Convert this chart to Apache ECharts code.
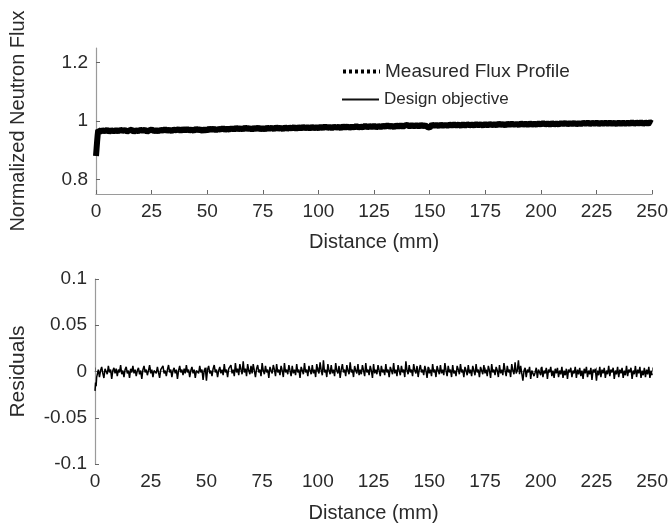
<!DOCTYPE html>
<html><head><meta charset="utf-8">
<script src="https://cdn.jsdelivr.net/npm/echarts@6/dist/echarts.min.js"></script>
<style>html,body{margin:0;padding:0;background:#fff}#c{width:671px;height:529px}</style>
</head><body><div id="c"></div>
<script>
const distance = [0,0.25,0.5,0.75,
1,2,3,4,5,6,7,8,9,10,11,12,13,14,15,16,17,18,19,20,21,22,23,24,25,26,27,28,29,30,
31,32,33,34,35,36,37,38,39,40,41,42,43,44,45,46,47,48,49,50,51,52,53,54,55,56,57,58,59,60,
61,62,63,64,65,66,67,68,69,70,71,72,73,74,75,76,77,78,79,80,81,82,83,84,85,86,87,88,89,90,
91,92,93,94,95,96,97,98,99,100,101,102,103,104,105,106,107,108,109,110,111,112,113,114,115,116,117,118,119,120,
121,122,123,124,125,126,127,128,129,130,131,132,133,134,135,136,137,138,139,140,141,142,143,144,145,146,147,148,149,150,
151,152,153,154,155,156,157,158,159,160,161,162,163,164,165,166,167,168,169,170,171,172,173,174,175,176,177,178,179,180,
181,182,183,184,185,186,187,188,189,190,191,192,193,194,195,196,197,198,199,200,201,202,203,204,205,206,207,208,209,210,
211,212,213,214,215,216,217,218,219,220,221,222,223,224,225,226,227,228,229,230,231,232,233,234,235,236,237,238,239,240,
241,242,243,244,245,246,247,248,249,250];

const measuredFlux = [0.880,0.905,0.930,0.952,
0.969,0.964,0.968,0.965,0.970,0.963,0.968,0.965,0.969,0.964,
0.970,0.966,0.969,0.964,0.968,0.970,0.963,0.968,0.965,0.970,
0.966,0.970,0.963,0.968,0.971,0.965,0.969,0.964,0.970,0.967,
0.972,0.966,0.970,0.965,0.971,0.968,0.972,0.966,0.973,0.967,
0.973,0.967,0.971,0.966,0.974,0.968,0.972,0.965,0.973,0.966,
0.975,0.969,0.974,0.968,0.973,0.970,0.976,0.969,0.974,0.970,
0.976,0.970,0.977,0.971,0.976,0.970,0.978,0.972,0.976,0.970,
0.977,0.972,0.978,0.971,0.976,0.971,0.978,0.973,0.977,0.972,
0.979,0.973,0.977,0.972,0.979,0.973,0.978,0.974,0.979,0.973,
0.979,0.974,0.980,0.975,0.979,0.974,0.980,0.975,0.979,0.975,
0.981,0.975,0.982,0.976,0.980,0.975,0.981,0.977,0.980,0.975,
0.982,0.977,0.982,0.976,0.981,0.977,0.983,0.977,0.981,0.978,
0.984,0.978,0.983,0.979,0.984,0.978,0.983,0.979,0.984,0.980,
0.985,0.980,0.984,0.979,0.985,0.980,0.986,0.980,0.985,0.987,
0.981,0.986,0.982,0.986,0.981,0.987,0.982,0.986,0.979,0.977,
0.988,0.983,0.987,0.982,0.988,0.983,0.987,0.983,0.988,0.984,
0.989,0.984,0.988,0.983,0.989,0.984,0.989,0.985,0.988,0.984,
0.990,0.985,0.989,0.984,0.990,0.985,0.990,0.986,0.989,0.985,
0.991,0.986,0.990,0.985,0.991,0.986,0.991,0.987,0.990,0.986,
0.992,0.987,0.991,0.986,0.992,0.987,0.991,0.987,0.992,0.988,
0.993,0.988,0.992,0.987,0.993,0.988,0.992,0.988,0.993,0.989,
0.994,0.988,0.993,0.989,0.994,0.988,0.993,0.989,0.994,0.990,
0.995,0.989,0.994,0.990,0.995,0.989,0.994,0.990,0.995,0.990,
0.995,0.990,0.994,0.989,0.995,0.990,0.995,0.990,0.994,0.990,
0.996,0.990,0.995,0.991,0.996,0.990,0.995,0.991,0.996,0.992];

const designDistance = [0, 250];
const designObjective = [0.966, 0.993];

const residualDistance = [0,0.25,0.5,0.75,
1,1.5,2,2.5,3,3.5,4,4.5,5,5.5,6,6.5,7,7.5,8,8.5,9,9.5,10,
10.5,11,11.5,12,12.5,13,13.5,14,14.5,15,15.5,16,16.5,17,17.5,18,18.5,19,19.5,20,
20.5,21,21.5,22,22.5,23,23.5,24,24.5,25,25.5,26,26.5,27,27.5,28,28.5,29,29.5,30,
30.5,31,31.5,32,32.5,33,33.5,34,34.5,35,35.5,36,36.5,37,37.5,38,38.5,39,39.5,40,
40.5,41,41.5,42,42.5,43,43.5,44,44.5,45,45.5,46,46.5,47,47.5,48,48.5,49,49.5,50,
50.5,51,51.5,52,52.5,53,53.5,54,54.5,55,55.5,56,56.5,57,57.5,58,58.5,59,59.5,60,
60.5,61,61.5,62,62.5,63,63.5,64,64.5,65,65.5,66,66.5,67,67.5,68,68.5,69,69.5,70,
70.5,71,71.5,72,72.5,73,73.5,74,74.5,75,75.5,76,76.5,77,77.5,78,78.5,79,79.5,80,
80.5,81,81.5,82,82.5,83,83.5,84,84.5,85,85.5,86,86.5,87,87.5,88,88.5,89,89.5,90,
90.5,91,91.5,92,92.5,93,93.5,94,94.5,95,95.5,96,96.5,97,97.5,98,98.5,99,99.5,100,
100.5,101,101.5,102,102.5,103,103.5,104,104.5,105,105.5,106,106.5,107,107.5,108,108.5,109,109.5,110,
110.5,111,111.5,112,112.5,113,113.5,114,114.5,115,115.5,116,116.5,117,117.5,118,118.5,119,119.5,120,
120.5,121,121.5,122,122.5,123,123.5,124,124.5,125,125.5,126,126.5,127,127.5,128,128.5,129,129.5,130,
130.5,131,131.5,132,132.5,133,133.5,134,134.5,135,135.5,136,136.5,137,137.5,138,138.5,139,139.5,140,
140.5,141,141.5,142,142.5,143,143.5,144,144.5,145,145.5,146,146.5,147,147.5,148,148.5,149,149.5,150,
150.5,151,151.5,152,152.5,153,153.5,154,154.5,155,155.5,156,156.5,157,157.5,158,158.5,159,159.5,160,
160.5,161,161.5,162,162.5,163,163.5,164,164.5,165,165.5,166,166.5,167,167.5,168,168.5,169,169.5,170,
170.5,171,171.5,172,172.5,173,173.5,174,174.5,175,175.5,176,176.5,177,177.5,178,178.5,179,179.5,180,
180.5,181,181.5,182,182.5,183,183.5,184,184.5,185,185.5,186,186.5,187,187.5,188,188.5,189,189.5,190,
190.5,191,191.5,192,192.5,193,193.5,194,194.5,195,195.5,196,196.5,197,197.5,198,198.5,199,199.5,200,
200.5,201,201.5,202,202.5,203,203.5,204,204.5,205,205.5,206,206.5,207,207.5,208,208.5,209,209.5,210,
210.5,211,211.5,212,212.5,213,213.5,214,214.5,215,215.5,216,216.5,217,217.5,218,218.5,219,219.5,220,
220.5,221,221.5,222,222.5,223,223.5,224,224.5,225,225.5,226,226.5,227,227.5,228,228.5,229,229.5,230,
230.5,231,231.5,232,232.5,233,233.5,234,234.5,235,235.5,236,236.5,237,237.5,238,238.5,239,239.5,240,
240.5,241,241.5,242,242.5,243,243.5,244,244.5,245,245.5,246,246.5,247,247.5,248,248.5,249,249.5,250];

const residuals = [-0.021,-0.012,-0.016,-0.006,
-0.004,0.002,-0.006,0.001,0.005,-0.002,-0.007,0.003,0.001,-0.003,0.006,-0.001,0.002,-0.008,0.001,0.004,-0.002,0.003,-0.005,
0.002,-0.001,0.007,-0.003,0.001,-0.006,0.002,0.005,-0.002,0.001,-0.007,0.003,-0.001,0.006,-0.002,0.002,-0.005,0.001,0.004,-0.003,
0.001,-0.008,0.002,0.006,-0.001,0.002,-0.004,0.001,0.007,-0.002,0.002,-0.006,0.001,0.003,-0.002,0.005,-0.001,-0.007,0.002,0.001,
0.006,-0.002,0.001,-0.005,0.002,0.007,-0.001,0.002,-0.006,0.001,0.004,-0.002,0.002,-0.008,0.001,0.006,-0.001,0.002,-0.004,0.003,
-0.002,0.007,-0.001,0.002,-0.006,0.001,0.005,-0.002,0.002,-0.007,0.001,0.003,-0.002,0.006,-0.001,0.002,-0.009,0.001,0.004,-0.010,
0.002,0.006,-0.002,0.001,-0.005,0.003,0.007,-0.001,0.002,-0.006,0.001,0.005,-0.002,0.002,-0.004,0.008,-0.001,0.002,-0.006,0.003,
0.001,0.007,-0.002,0.002,-0.005,0.009,-0.001,0.003,-0.004,0.008,0.002,-0.003,0.011,-0.001,0.003,-0.005,0.008,0.001,-0.003,0.006,
-0.002,0.008,0.001,-0.006,0.003,0.007,-0.001,0.002,-0.005,0.009,0.001,-0.003,0.006,-0.001,0.002,-0.007,0.005,0.001,-0.002,0.007,
0.002,-0.005,0.008,-0.001,0.002,-0.004,0.006,0.001,-0.006,0.009,-0.001,0.002,-0.003,0.007,0.001,-0.005,0.006,-0.002,0.002,-0.004,
0.008,-0.001,0.002,-0.007,0.005,0.001,-0.003,0.009,-0.001,0.002,-0.005,0.006,0.001,-0.003,0.007,-0.002,0.002,-0.006,0.008,0.001,
-0.002,0.010,0.001,-0.004,0.012,-0.001,0.002,-0.006,0.008,0.001,-0.003,0.007,-0.002,0.002,-0.005,0.009,0.001,-0.002,0.006,-0.007,
0.002,0.008,-0.001,0.002,-0.005,0.007,0.001,-0.003,0.010,-0.001,0.002,-0.006,0.006,0.001,-0.002,0.008,-0.004,0.002,-0.003,0.007,
0.001,-0.005,0.009,-0.001,0.002,-0.004,0.006,0.001,-0.007,0.008,-0.002,0.002,-0.003,0.007,0.001,-0.005,0.006,-0.001,0.002,-0.004,
0.008,-0.001,0.002,-0.006,0.005,0.001,-0.003,0.009,-0.002,0.002,-0.005,0.007,0.001,-0.004,0.006,-0.001,0.002,-0.006,0.011,0.001,
-0.003,0.007,-0.001,0.002,-0.005,0.008,0.001,-0.002,0.006,-0.006,0.002,0.007,-0.001,0.002,-0.004,0.006,0.001,-0.007,0.005,-0.002,
0.002,-0.005,0.008,-0.001,0.002,-0.006,0.006,0.001,-0.003,0.007,-0.002,0.002,-0.004,0.009,0.001,-0.005,0.006,-0.001,0.002,-0.006,
0.007,-0.002,0.001,-0.005,0.006,0.002,-0.003,0.008,-0.001,0.002,-0.006,0.005,0.001,-0.004,0.007,-0.002,0.002,-0.005,0.006,0.001,
-0.004,0.008,-0.001,0.002,-0.006,0.005,0.001,-0.003,0.007,-0.002,0.002,-0.005,0.006,0.001,-0.007,0.008,-0.001,0.002,-0.004,0.005,
0.001,-0.006,0.007,-0.002,0.002,-0.004,0.009,0.001,-0.005,0.006,-0.001,0.002,-0.006,0.008,0.001,-0.003,0.010,-0.002,0.001,0.012,
-0.003,0.006,-0.002,-0.010,0.001,0.004,-0.006,0.002,-0.001,0.005,-0.008,0.001,0.003,-0.005,-0.001,0.004,-0.007,0.002,0.001,-0.004,
0.005,-0.006,0.001,-0.002,0.004,-0.008,0.002,-0.001,0.005,-0.005,0.001,-0.007,0.003,-0.002,0.004,-0.006,0.001,-0.003,0.005,-0.007,
0.001,-0.004,0.003,-0.008,0.002,-0.001,0.004,-0.006,0.001,-0.002,0.005,-0.007,0.002,-0.003,0.004,-0.005,0.001,-0.008,0.003,-0.002,
0.005,-0.006,0.001,-0.003,0.004,-0.009,0.002,-0.001,0.003,-0.010,0.001,-0.004,0.005,-0.006,0.002,-0.002,0.004,-0.007,0.001,-0.003,
0.006,-0.005,0.002,-0.001,0.004,-0.008,0.001,-0.003,0.005,-0.006,0.002,-0.002,0.004,-0.007,0.001,-0.004,0.006,-0.005,0.002,-0.001,
0.004,-0.008,0.001,-0.003,0.006,-0.006,0.002,-0.002,0.005,-0.007,0.001,-0.004,0.004,-0.006,0.002,-0.003,0.005,-0.007,0.001,-0.004];

const xTicks = [0,25,50,75,100,125,150,175,200,225,250];
const fluxTicks = [0.8, 1, 1.2];
const residualTicks = [-0.1,-0.05,0,0.05,0.1];

const FONT = 'Liberation Sans, Arial, sans-serif';
const axisColor = '#9a9a9a';
const labelColor = '#2a2a2a';

function xAxisCfg(gi, gap) {
  return {
    type: 'value', gridIndex: gi, min: 0, max: 250, interval: 25,
    name: 'Distance (mm)', nameLocation: 'middle', nameGap: gap,
    nameTextStyle: { fontFamily: FONT, fontSize: 20, color: labelColor },
    axisLine: { lineStyle: { color: axisColor, width: 1.2 } },
    axisTick: { inside: true, length: 4, lineStyle: { color: '#666' } },
    axisLabel: { fontFamily: FONT, fontSize: 19, color: labelColor, margin: 8 },
    splitLine: { show: false }
  };
}

const chart = echarts.init(document.getElementById('c'), null, { renderer: 'canvas' });
chart.setOption({
  animation: false,
  backgroundColor: '#fff',
  grid: [
    { left: 95, right: 17, top: 48, height: 146 },
    { left: 95, right: 17, top: 279, height: 185 }
  ],
  legend: [
    { data: ['Measured Flux Profile'], left: 336, top: 57,
      itemWidth: 37, itemHeight: 12, itemGap: 6,
      itemStyle: { opacity: 0 },
      lineStyle: { type: [3, 3], width: 4, color: '#000' },
      textStyle: { fontFamily: FONT, fontSize: 19, color: labelColor } },
    { data: ['Design objective'], left: 336, top: 86,
      itemWidth: 37, itemHeight: 12,
      itemStyle: { opacity: 0 },
      lineStyle: { width: 2, color: '#111' },
      textStyle: { fontFamily: FONT, fontSize: 17, color: labelColor, padding: [8, 0, 0, 0] } }
  ],
  xAxis: [xAxisCfg(0, 38), xAxisCfg(1, 39)],
  yAxis: [
    { type: 'value', gridIndex: 0, min: 0.75, max: 1.25,
      name: 'Normalized Neutron Flux', nameLocation: 'middle', nameGap: 68,
      nameTextStyle: { fontFamily: FONT, fontSize: 20, color: labelColor },
      axisLine: { show: true, lineStyle: { color: axisColor, width: 1.2 } },
      axisTick: { show: true, inside: true, length: 4, customValues: fluxTicks, lineStyle: { color: '#666' } },
      axisLabel: { fontFamily: FONT, fontSize: 19, color: labelColor, margin: 8, customValues: fluxTicks },
      splitLine: { show: false } },
    { type: 'value', gridIndex: 1, min: -0.1, max: 0.1, interval: 0.05,
      name: 'Residuals', nameLocation: 'middle', nameGap: 66,
      nameTextStyle: { fontFamily: FONT, fontSize: 21, color: labelColor },
      axisLine: { show: true, lineStyle: { color: axisColor, width: 1.2 } },
      axisTick: { show: true, inside: true, length: 4, lineStyle: { color: '#666' } },
      axisLabel: { fontFamily: FONT, fontSize: 19, color: labelColor, margin: 8 },
      splitLine: { show: false } }
  ],
  series: [
    { name: 'Design objective', type: 'line', xAxisIndex: 0, yAxisIndex: 0, z: 1,
      symbol: 'none', data: designDistance.map((d, i) => [d, designObjective[i]]),
      lineStyle: { color: '#111', width: 1.5 }, itemStyle: { color: '#111' } },
    { name: 'Measured Flux Profile', type: 'line', xAxisIndex: 0, yAxisIndex: 0, z: 3,
      symbol: 'none', data: distance.map((d, i) => [d, measuredFlux[i]]),
      lineStyle: { color: '#000', width: 6 }, itemStyle: { color: '#000' } },
    { name: 'Residuals', type: 'line', xAxisIndex: 1, yAxisIndex: 1,
      symbol: 'none', data: residualDistance.map((d, i) => [d, residuals[i]]),
      lineStyle: { color: '#000', width: 1.5 } }
  ]
});
</script></body></html>
